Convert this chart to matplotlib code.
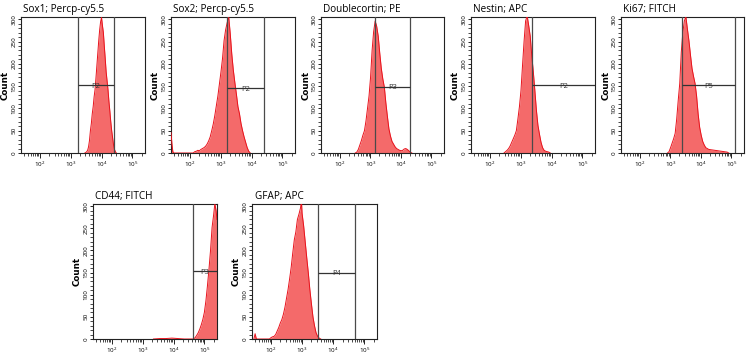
import numpy as np
import matplotlib
matplotlib.use("Agg")
import matplotlib.pyplot as plt
from matplotlib.ticker import LogLocator, MultipleLocator, NullFormatter

plt.rcParams["font.family"] = ["Open Sans", "DejaVu Sans"]

# histogram data: log10 of fluorescence intensity and event counts
sox1_log = [3.46, 3.49, 3.52, 3.55, 3.58, 3.61, 3.64, 3.67, 3.70, 3.73, 3.76, 3.79,
            3.82, 3.85, 3.88, 3.91, 3.94, 3.97, 4.00, 4.03, 4.06, 4.09, 4.12, 4.15,
            4.18, 4.21, 4.24, 4.27, 4.30, 4.33, 4.36, 4.39, 4.42, 4.45, 4.48]
sox1_count = [0, 1, 3, 6, 14, 28, 50, 66, 88, 104, 126, 142, 168, 196, 224, 252, 276,
              294, 304, 286, 270, 240, 212, 182, 162, 142, 116, 94, 70, 50, 34, 18, 8, 3, 0]

sox2_log = [1.39, 1.42, 1.45, 1.48, 2.11, 2.16, 2.21, 2.26, 2.31, 2.36, 2.41, 2.46,
            2.51, 2.56, 2.61, 2.66, 2.71, 2.76, 2.81, 2.86, 2.91, 2.96, 3.01, 3.06,
            3.11, 3.16, 3.21, 3.26, 3.31, 3.36, 3.41, 3.46, 3.51, 3.56, 3.61, 3.66,
            3.71, 3.76, 3.81, 3.86, 3.91, 3.96]
sox2_count = [46, 20, 3, 0, 0, 3, 4, 6, 5, 8, 10, 12, 15, 20, 27, 36, 50, 65, 84, 106,
              128, 155, 182, 212, 252, 276, 292, 306, 268, 222, 186, 158, 132, 104, 88,
              66, 50, 36, 24, 12, 4, 0]

dcx_log = [2.51, 2.56, 2.61, 2.66, 2.71, 2.76, 2.81, 2.86, 2.91, 2.96, 3.01, 3.06,
           3.11, 3.16, 3.21, 3.26, 3.31, 3.36, 3.41, 3.46, 3.51, 3.56, 3.61, 3.66,
           3.71, 3.76, 3.81, 3.86, 3.91, 3.96, 4.01, 4.06, 4.11, 4.16, 4.21, 4.26,
           4.31, 4.36]
dcx_count = [0, 2, 8, 18, 28, 40, 50, 72, 100, 128, 170, 230, 272, 296, 284, 262, 224,
             190, 166, 148, 112, 82, 54, 38, 26, 20, 14, 10, 8, 6, 5, 6, 9, 10, 8, 5, 2, 0]

nestin_log = [2.46, 2.51, 2.56, 2.61, 2.66, 2.71, 2.76, 2.81, 2.86, 2.91, 2.96, 3.01,
              3.06, 3.11, 3.16, 3.21, 3.26, 3.31, 3.36, 3.41, 3.46, 3.51, 3.56, 3.61,
              3.66, 3.71, 3.76, 3.81, 3.86, 3.91, 3.96]
nestin_count = [0, 3, 6, 10, 16, 24, 32, 40, 50, 76, 104, 140, 196, 250, 296, 308, 286,
                262, 218, 182, 140, 96, 62, 42, 24, 12, 6, 4, 3, 2, 0]

ki67_log = [2.91, 2.96, 3.01, 3.06, 3.11, 3.16, 3.21, 3.26, 3.31, 3.36, 3.41, 3.46,
            3.51, 3.56, 3.61, 3.66, 3.71, 3.76, 3.81, 3.86, 3.91, 3.96, 4.01, 4.06,
            4.11, 4.16, 4.26, 4.36, 4.46, 4.56, 4.66, 4.76, 4.86, 4.91]
ki67_count = [0, 3, 12, 22, 32, 44, 76, 118, 156, 226, 270, 296, 306, 278, 252, 220,
              190, 172, 156, 128, 88, 58, 40, 26, 18, 12, 8, 7, 6, 5, 4, 3, 2, 0]

cd44_log = [3.35, 3.55, 3.75, 3.95, 4.15, 4.35, 4.65, 4.70, 4.75, 4.80, 4.85, 4.90,
            4.95, 5.00, 5.05, 5.10, 5.15, 5.20, 5.25, 5.30, 5.34, 5.38, 5.41]
cd44_count = [0, 1, 1, 2, 1, 0, 0, 3, 8, 14, 22, 32, 44, 60, 86, 120, 158, 200, 252,
              280, 306, 290, 270]

gfap_log = [1.45, 1.49, 1.53, 1.95, 2.00, 2.05, 2.10, 2.15, 2.20, 2.25, 2.30, 2.35,
            2.40, 2.45, 2.50, 2.55, 2.60, 2.65, 2.70, 2.75, 2.80, 2.85, 2.90, 2.95,
            2.98, 3.00, 3.05, 3.10, 3.15, 3.20, 3.25, 3.30, 3.35, 3.40, 3.45, 3.50,
            3.55, 3.60]
gfap_count = [0, 12, 0, 0, 3, 5, 6, 10, 18, 26, 36, 44, 56, 72, 92, 112, 136, 162, 194,
              224, 242, 270, 282, 296, 312, 284, 256, 220, 184, 150, 112, 80, 50, 30, 14,
              6, 2, 0]

titles = ["Sox1; Percp-cy5.5", "Sox2; Percp-cy5.5", "Doublecortin; PE", "Nestin; APC",
          "Ki67; FITCH", "CD44; FITCH", "GFAP; APC"]
gate_names = ["P2", "P2", "P3", "P2", "P5", "P3", "P4"]
gate_low = [1700, 1620, 1480, 2290, 2400, 43600, 3160]
gate_high = [26300, 25100, 20400, None, 135000, None, 50000]
gate_height = [153, 146, 149, 153, 152, 153, 150]

panels = list(zip(titles,
                  [sox1_log, sox2_log, dcx_log, nestin_log, ki67_log, cd44_log, gfap_log],
                  [sox1_count, sox2_count, dcx_count, nestin_count, ki67_count, cd44_count, gfap_count],
                  gate_names, gate_low, gate_high, gate_height))

W, H = 750, 361
# axes boxes in pixels: left, top, width, height
boxes = [(21, 17, 124, 136), (171, 17, 124, 136), (321, 17, 123, 136),
         (471, 17, 124, 136), (621, 17, 123, 136),
         (93, 204, 124, 135), (252, 204, 125, 135)]

xmin, xmax = 10 ** 1.39, 10 ** 5.41

fig = plt.figure(figsize=(W / 100, H / 100), dpi=100)

for (title, xs, counts, gname, glo, ghi, gh), (l, t, w, h) in zip(panels, boxes):
    ax = fig.add_axes([l / W, 1 - (t + h) / H, w / W, h / H])
    x = 10 ** np.array(xs)
    ax.fill_between(x, counts, color="#f46a6a", lw=0, zorder=2)
    ax.plot(x, counts, color="#e8121c", lw=0.7, zorder=3)

    ax.set_xscale("log")
    ax.set_xlim(xmin, xmax)
    ax.set_ylim(0, 305)

    # gate
    hi = ghi if ghi is not None else xmax
    ax.axvline(glo, color="#4a4a4a", lw=0.9, zorder=4)
    if ghi is not None:
        ax.axvline(ghi, color="#4a4a4a", lw=0.9, zorder=4)
    ax.hlines(gh, glo, hi, color="#333333", lw=0.9, zorder=4)
    ax.text(np.sqrt(glo * hi), gh - 3, gname, fontsize=5.5, ha="center", va="center",
            color="#333333", zorder=5)

    ax.xaxis.set_major_locator(LogLocator(base=10, numticks=10))
    ax.xaxis.set_minor_locator(LogLocator(base=10, subs=np.arange(2, 10), numticks=20))
    ax.xaxis.set_minor_formatter(NullFormatter())
    ax.yaxis.set_major_locator(MultipleLocator(50))
    ax.yaxis.set_minor_locator(MultipleLocator(10))

    ax.tick_params(which="major", direction="out", length=3.5, width=0.6, pad=1,
                   labelsize=4.5, colors="black")
    ax.tick_params(axis="y", which="major", length=2.5, pad=0.5)
    ax.tick_params(which="minor", direction="out", length=2, width=0.5)
    for lab in ax.get_yticklabels():
        lab.set_rotation(90)
        lab.set_va("center")
    for s in ax.spines.values():
        s.set_linewidth(0.8)
        s.set_color("#222222")

    ax.set_ylabel("Count", fontsize=6.3, fontweight="bold", family="DejaVu Sans")
    ax.yaxis.set_label_coords(-0.088, 0.5)
    ax.text(0.02, 1.012, title, transform=ax.transAxes, fontsize=7.2,
            ha="left", va="bottom")

fig.savefig("out.png", dpi=100)
